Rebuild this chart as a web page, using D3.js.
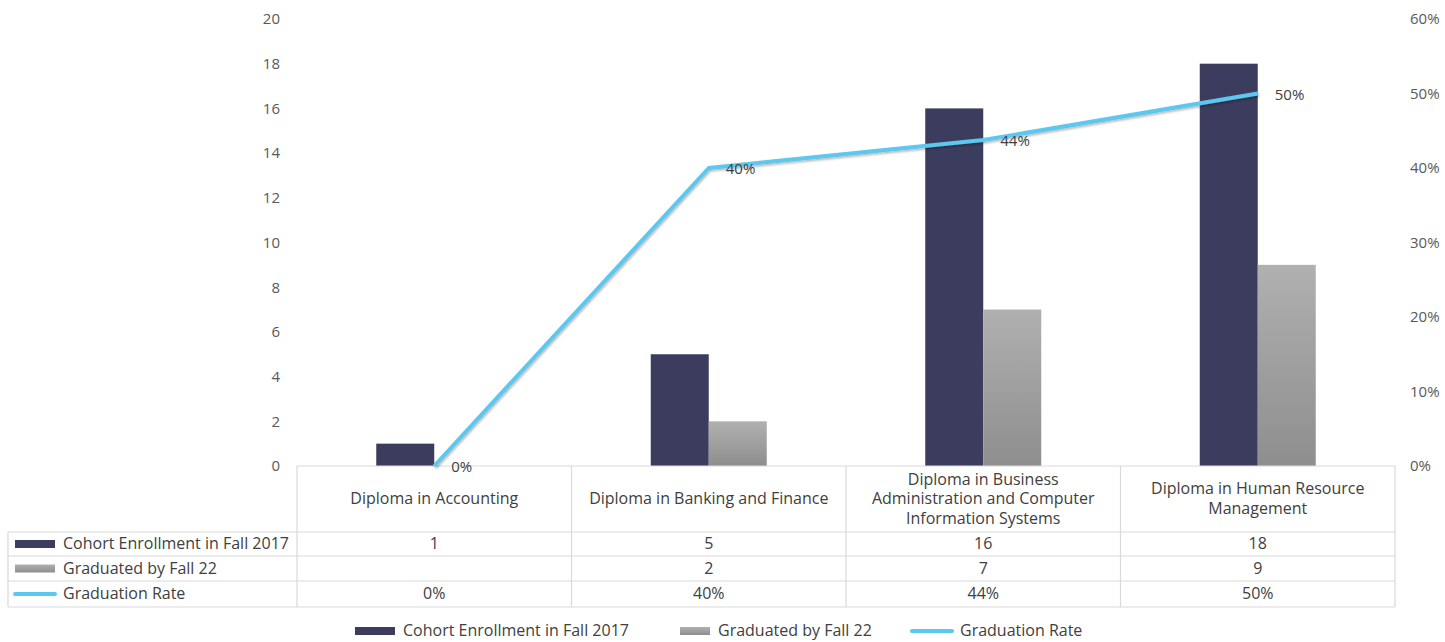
<!DOCTYPE html>
<html>
<head>
<meta charset="utf-8">
<script src="https://cdn.jsdelivr.net/npm/d3@7"></script>
<style>
body { margin: 0; background: #fff; }
text { font-family: "Open Sans", Lato, sans-serif; }
</style>
</head>
<body>
<script>
// chart values
var categories = ["Diploma in Accounting", "Diploma in Banking and Finance",
    "Diploma in Business Administration and Computer Information Systems",
    "Diploma in Human Resource Management"];
var categoryLines = [["Diploma in Accounting"], ["Diploma in Banking and Finance"],
    ["Diploma in Business", "Administration and Computer", "Information Systems"],
    ["Diploma in Human Resource", "Management"]];
var cohort = [1, 5, 16, 18];
var graduated = [null, 2, 7, 9];
var rate = [0, 0.40, 0.4375, 0.50];
var seriesNames = ["Cohort Enrollment in Fall 2017", "Graduated by Fall 22", "Graduation Rate"];
var leftTicks = [0, 2, 4, 6, 8, 10, 12, 14, 16, 18, 20];
var rightTicks = [0, 0.1, 0.2, 0.3, 0.4, 0.5, 0.6];

var W = 1445, H = 642;
var plotLeft = 297, plotRight = 1395, plotTop = 19, plotBottom = 466;
var barW = 58;
var fs = 16;
var navy = "#3c3c5e", cyan = "#5bc8ef", gridc = "#d9d9d9", textc = "#404040";

var svg = d3.select("body").append("svg").attr("width", W).attr("height", H);

var defs = svg.append("defs");
var grad = defs.append("linearGradient").attr("id", "grayGrad")
    .attr("x1", 0).attr("y1", 0).attr("x2", 0).attr("y2", 1);
grad.append("stop").attr("offset", "0%").attr("stop-color", "#b0b0b0");
grad.append("stop").attr("offset", "100%").attr("stop-color", "#8e8e8e");
var shadow = defs.append("filter").attr("id", "shadow").attr("x", "-10%").attr("y", "-10%")
    .attr("width", "120%").attr("height", "120%");
shadow.append("feDropShadow").attr("dx", 1).attr("dy", 1.5).attr("stdDeviation", 1)
    .attr("flood-color", "#000").attr("flood-opacity", 0.3);

var x0 = d3.scaleBand().domain(categories).range([plotLeft, plotRight]);
var x1 = d3.scaleBand().domain(["cohort", "grad"]).range([0, barW * 2]);
var y = d3.scaleLinear().domain([0, 20]).range([plotBottom, plotTop]);
var y2 = d3.scaleLinear().domain([0, 0.6]).range([plotBottom, plotTop]);
var cx = function(c){ return x0(c) + x0.bandwidth() / 2; };

// left axis
var yAxis = d3.axisLeft(y).tickValues(leftTicks).tickSize(0).tickPadding(0);
var gy = svg.append("g").attr("transform", "translate(280,0)").call(yAxis);
gy.select(".domain").remove();
gy.selectAll("text").attr("font-size", 15).attr("fill", "#595959")
    .style("font-family", "'Open Sans', Lato, sans-serif");

// right axis
var yAxis2 = d3.axisRight(y2).tickValues(rightTicks).tickSize(0).tickPadding(0)
    .tickFormat(d3.format(".0%"));
var gy2 = svg.append("g").attr("transform", "translate(1410,0)").call(yAxis2);
gy2.select(".domain").remove();
gy2.selectAll("text").attr("font-size", 15).attr("fill", "#595959")
    .style("font-family", "'Open Sans', Lato, sans-serif");

// bars
var groups = svg.append("g").selectAll("g")
    .data(categories).enter().append("g")
    .attr("transform", function(c){ return "translate(" + (cx(c) - barW) + ",0)"; });

groups.append("rect")
    .attr("x", x1("cohort"))
    .attr("y", function(c, i){ return y(cohort[i]); })
    .attr("width", x1.bandwidth())
    .attr("height", function(c, i){ return y(0) - y(cohort[i]); })
    .attr("fill", navy);

groups.filter(function(c, i){ return graduated[i] != null; })
    .append("rect")
    .attr("x", x1("grad"))
    .attr("y", function(c){ var i = categories.indexOf(c); return y(graduated[i]); })
    .attr("width", x1.bandwidth())
    .attr("height", function(c){ var i = categories.indexOf(c); return y(0) - y(graduated[i]); })
    .attr("fill", "url(#grayGrad)");

// table grid
var rowTops = [466, 532, 556, 581, 607];
var tableLeft = 8;
var tg = svg.append("g").attr("stroke", gridc).attr("stroke-width", 1.2).attr("fill", "none");
tg.append("line").attr("x1", plotLeft).attr("x2", plotRight).attr("y1", rowTops[0]).attr("y2", rowTops[0]);
rowTops.slice(1).forEach(function(r){
    tg.append("line").attr("x1", tableLeft).attr("x2", plotRight).attr("y1", r).attr("y2", r);
});
categories.forEach(function(c){
    tg.append("line").attr("x1", x0(c)).attr("x2", x0(c)).attr("y1", rowTops[0]).attr("y2", rowTops[4]);
});
tg.append("line").attr("x1", plotRight).attr("x2", plotRight).attr("y1", rowTops[0]).attr("y2", rowTops[4]);
tg.append("line").attr("x1", tableLeft).attr("x2", tableLeft).attr("y1", rowTops[1]).attr("y2", rowTops[4]);

// header labels
var headers = svg.append("g").selectAll("text")
    .data(categories).enter().append("text")
    .attr("text-anchor", "middle").attr("font-size", fs).attr("fill", textc)
    .attr("x", cx)
    .attr("y", function(c, i){
        var n = categoryLines[i].length;
        return (rowTops[0] + rowTops[1]) / 2 - (n - 1) * 19.5 / 2 + 5;
    });
headers.each(function(c, i){
    var t = d3.select(this);
    categoryLines[i].forEach(function(line, k){
        t.append("tspan").attr("x", cx(c)).attr("dy", k == 0 ? 0 : 19.5).text(line);
    });
});

// table values
var fmt = d3.format(".0%");
var rows = [
    cohort.map(function(v){ return v == null ? "" : v; }),
    graduated.map(function(v){ return v == null ? "" : v; }),
    rate.map(function(v){ return fmt(v); })
];
rows.forEach(function(vals, r){
    var mid = (rowTops[r + 1] + rowTops[r + 2]) / 2 + 5;
    svg.append("g").selectAll("text").data(vals).enter().append("text")
        .attr("x", function(v, i){ return cx(categories[i]); })
        .attr("y", mid).attr("text-anchor", "middle").attr("font-size", fs).attr("fill", textc)
        .text(function(v){ return v; });
    var key = svg.append("g").attr("transform", "translate(15," + (mid - 5) + ")");
    drawKey(key, r, 40);
    svg.append("text").attr("x", 63).attr("y", mid).attr("font-size", fs).attr("fill", textc)
        .text(seriesNames[r]);
});

function drawKey(g, r, w){
    if (r == 0) g.append("rect").attr("x", 0).attr("y", -4).attr("width", w).attr("height", 8).attr("fill", navy);
    else if (r == 1) g.append("rect").attr("x", 0).attr("y", -4).attr("width", w).attr("height", 8).attr("fill", "url(#grayGrad)");
    else g.append("line").attr("x1", 0).attr("x2", w).attr("y1", 0).attr("y2", 0)
        .attr("stroke", cyan).attr("stroke-width", 4).attr("stroke-linecap", "round");
}

// graduation rate line
var line = d3.line()
    .x(function(d, i){ return cx(categories[i]); })
    .y(function(d){ return y2(d); });
svg.append("path").datum(rate)
    .attr("d", line)
    .attr("fill", "none").attr("stroke", cyan).attr("stroke-width", 4)
    .attr("stroke-linejoin", "round")
    .attr("filter", "url(#shadow)");

svg.append("g").selectAll("text").data(rate).enter().append("text")
    .attr("x", function(d, i){ return cx(categories[i]) + 17; })
    .attr("y", function(d){ return y2(d) + 6; })
    .attr("font-size", 15).attr("fill", textc)
    .text(function(d){ return fmt(d); });

// bottom legend
var legendX = [355, 680, 912];
seriesNames.forEach(function(n, r){
    var g = svg.append("g").attr("transform", "translate(" + legendX[r] + ",631)");
    drawKey(g, r, r == 1 ? 30 : 40);
    g.append("text").attr("x", r == 1 ? 38 : 48).attr("y", 5).attr("font-size", fs).attr("fill", textc).text(n);
});
</script>
</body>
</html>
